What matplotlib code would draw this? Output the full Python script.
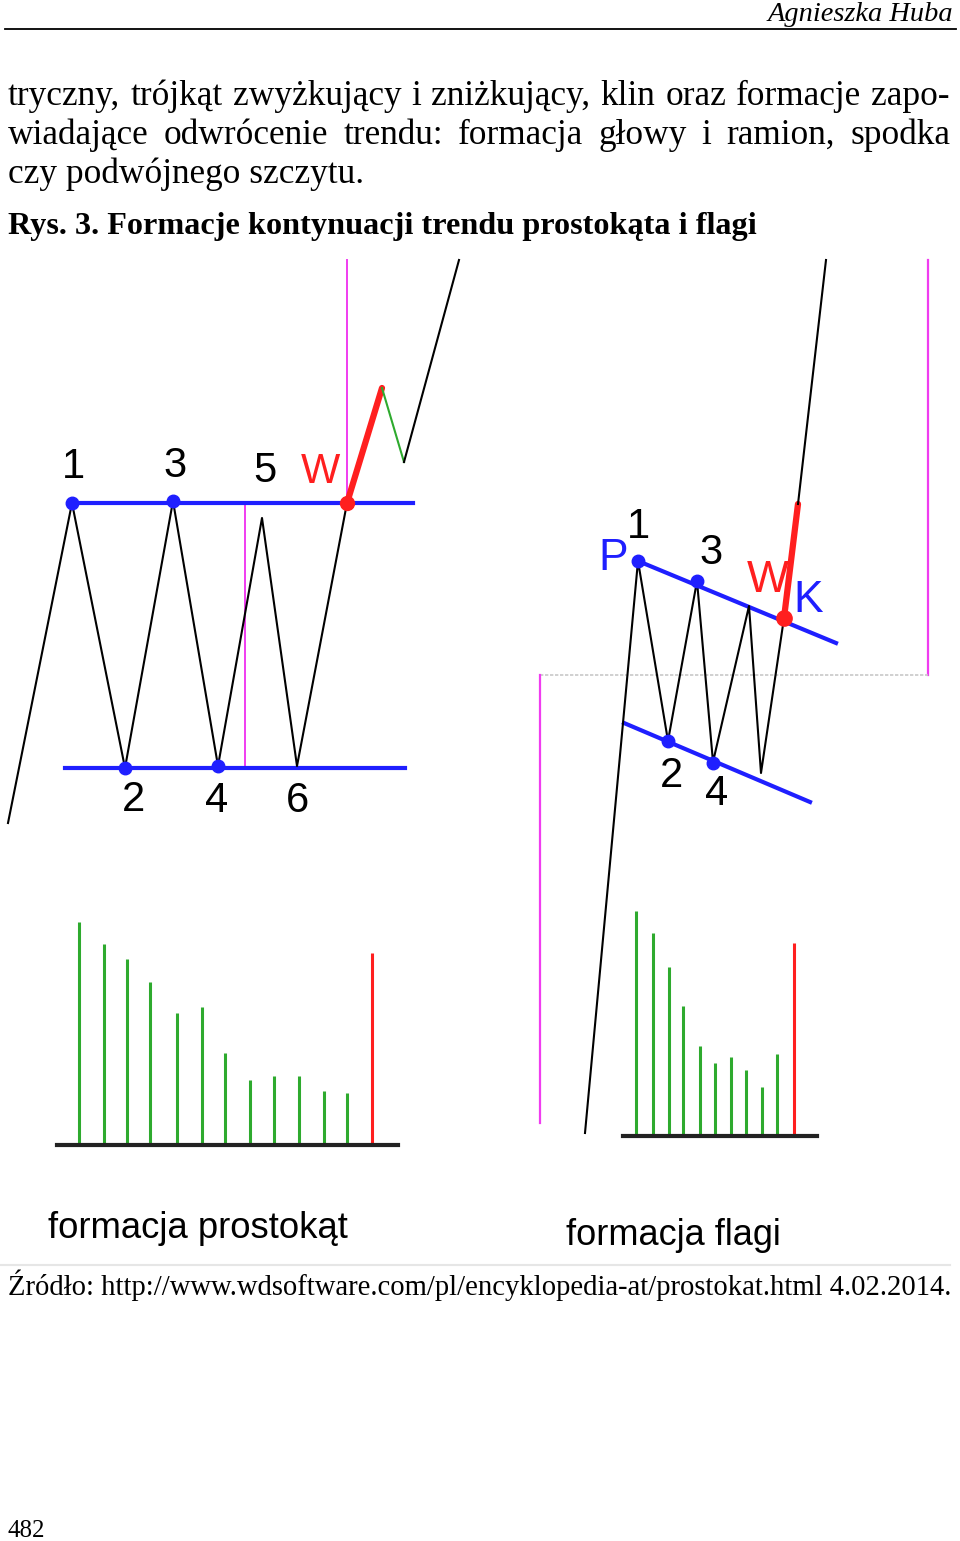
import matplotlib
matplotlib.use("Agg")
import matplotlib.pyplot as plt

# ── page text ──
HEADER = "Agnieszka Huba"
BODY_LINES = [
    "tryczny, trójkąt zwyżkujący i zniżkujący, klin oraz formacje zapo-",
    "wiadające odwrócenie trendu: formacja głowy i ramion, spodka",
    "czy podwójnego szczytu.",
]
CAPTION = "Rys. 3. Formacje kontynuacji trendu prostokąta i flagi"
SOURCE = "Źródło: http://www.wdsoftware.com/pl/encyklopedia-at/prostokat.html 4.02.2014."
PAGE_NO = "482"

# ── rectangle formation (page pixel coords, y down) ──
rect_price_x = [8, 72, 125, 173, 218, 262, 297, 347]
rect_price_y = [823, 503, 768, 501, 766, 518, 766, 503]
rect_break_x = [347, 382]
rect_break_y = [503, 388]
rect_pull_x = [382, 404]
rect_pull_y = [388, 462]
rect_after_x = [404, 459]
rect_after_y = [462, 260]
rect_top_line = ([72, 413], [503, 503])
rect_bot_line = ([65, 405], [768, 768])
rect_dots_x = [72, 173, 125, 218]
rect_dots_y = [503, 501, 768, 766]
rect_labels = ["1", "3", "5", "2", "4", "6"]
rect_label_x = [73, 175, 265, 134, 217, 298]
rect_label_y = [467, 466, 471, 800, 801, 801]

# volume below rectangle
rect_vol_x = [79, 104, 127, 150, 177, 202, 225, 250, 274, 299, 324, 347]
rect_vol = [223, 201, 186, 163, 132, 138, 92, 65, 69, 69, 54, 52]
rect_vol_break_x = 372
rect_vol_break = 192
rect_vol_base = 1145

# ── flag formation ──
flag_price_x = [585, 638, 668, 697, 713, 749, 761, 784]
flag_price_y = [1133, 561, 741, 581, 762, 606, 773, 618]
flag_break_x = [784, 798]
flag_break_y = [618, 504]
flag_after_x = [798, 826]
flag_after_y = [504, 260]
flag_top_line = ([638, 836], [561, 643])
flag_bot_line = ([624, 810], [723, 802])
flag_dots_x = [638, 697, 668, 713]
flag_dots_y = [561, 581, 741, 763]
flag_labels = ["1", "3", "2", "4"]
flag_label_x = [638, 711, 672, 717]
flag_label_y = [527, 553, 776, 794]

flag_vol_x = [636, 653, 669, 683, 700, 715, 731, 746, 762, 777]
flag_vol = [225, 203, 169, 130, 90, 73, 79, 66, 49, 82]
flag_vol_break_x = 794
flag_vol_break = 193
flag_vol_base = 1136

BLUE = "#1f1fff"
RED = "#ff1f1f"
GREEN = "#2eaa2e"
MAGENTA = "#f03cf0"
NARROW = ["Liberation Sans Narrow", "Liberation Sans", "DejaVu Sans"]
SERIF = ["Liberation Serif", "DejaVu Serif"]

fig = plt.figure(figsize=(9.6, 15.41), dpi=100)
ax = fig.add_axes([0, 0, 1, 1])
ax.set_xlim(0, 960)
ax.set_ylim(1541, 0)
ax.axis("off")
renderer = fig.canvas.get_renderer()


def text_width(t):
    bb = t.get_window_extent(renderer=renderer)
    return bb.width


def fit_text(x, y, s, width, size, **kw):
    t = ax.text(x, y, s, fontsize=size, va="baseline", **kw)
    w = text_width(t)
    t.set_fontsize(size * width / w)
    return t


def justify(s, x0, x1, y, size, **kw):
    words = s.split(" ")
    texts = [ax.text(0, y, w, fontsize=size, va="baseline", **kw) for w in words]
    widths = [text_width(t) for t in texts]
    gap = (x1 - x0 - sum(widths)) / (len(words) - 1)
    x = x0
    for t, w in zip(texts, widths):
        t.set_x(x)
        x += w + gap


# ── header ──
hdr = fit_text(953, 21, HEADER, 186, 19, style="italic", ha="right",
               family=SERIF)
ax.plot([5, 956], [29, 29], color="black", lw=1.3)

body = fit_text(8, 183, BODY_LINES[2], 355, 22, family=SERIF)
body_size = body.get_fontsize()
justify(BODY_LINES[0], 8, 950, 105, body_size, family=SERIF)
justify(BODY_LINES[1], 8, 950, 144, body_size, family=SERIF)
fit_text(8, 234, CAPTION, 749, 22, family=SERIF, weight="bold")

# ── rectangle chart ──
ax.plot([347, 347], [260, 503], color=MAGENTA, lw=1.4)
ax.plot([245, 245], [503, 768], color=MAGENTA, lw=1.4)
ax.plot(*rect_top_line, color=BLUE, lw=3)
ax.plot(*rect_bot_line, color=BLUE, lw=3)
ax.plot(rect_price_x, rect_price_y, color="black", lw=1.5)
ax.plot(rect_break_x, rect_break_y, color=RED, lw=4.5, solid_capstyle="round")
ax.plot(rect_pull_x, rect_pull_y, color=GREEN, lw=1.5)
ax.plot(rect_after_x, rect_after_y, color="black", lw=1.5)
ax.plot(rect_dots_x, rect_dots_y, "o", color=BLUE, ms=9)
ax.plot(rect_break_x[0], rect_break_y[0], "o", color=RED, ms=10)
for s, x, y in zip(rect_labels, rect_label_x, rect_label_y):
    ax.text(x, y, s, fontsize=30, ha="center", va="center", family=NARROW)
ax.text(320, 472, "W", fontsize=30, ha="center", va="center", color=RED,
        family=NARROW)

# ── flag chart ──
ax.plot([928, 928], [260, 675], color=MAGENTA, lw=1.6)
ax.plot([540, 928], [675, 675], color="#c8c8c8", lw=1.2, ls=(0, (2, 1)))
ax.plot([540, 540], [675, 1123], color=MAGENTA, lw=1.6)
ax.plot(*flag_top_line, color=BLUE, lw=3)
ax.plot(*flag_bot_line, color=BLUE, lw=3)
ax.plot(flag_price_x, flag_price_y, color="black", lw=1.5)
ax.plot(flag_break_x, flag_break_y, color=RED, lw=4.5, solid_capstyle="round")
ax.plot(flag_after_x, flag_after_y, color="black", lw=1.5)
ax.plot(flag_dots_x, flag_dots_y, "o", color=BLUE, ms=9)
ax.plot(flag_break_x[0], flag_break_y[0], "o", color=RED, ms=11)
for s, x, y in zip(flag_labels, flag_label_x, flag_label_y):
    ax.text(x, y, s, fontsize=30, ha="center", va="center", family=NARROW)
ax.text(613, 558, "P", fontsize=32, ha="center", va="center", color=BLUE,
        family=NARROW)
ax.text(768, 580, "W", fontsize=32, ha="center", va="center", color=RED,
        family=NARROW)
ax.text(808, 600, "K", fontsize=32, ha="center", va="center", color=BLUE,
        family=NARROW)

# ── volume ──
ax.vlines(rect_vol_x, rect_vol_base, [rect_vol_base - v for v in rect_vol],
          color=GREEN, lw=2.2)
ax.vlines(rect_vol_break_x, rect_vol_base, rect_vol_base - rect_vol_break,
          color=RED, lw=2.2)
ax.plot([57, 398], [rect_vol_base, rect_vol_base], color="#222222", lw=3)
ax.vlines(flag_vol_x, flag_vol_base, [flag_vol_base - v for v in flag_vol],
          color=GREEN, lw=2.2)
ax.vlines(flag_vol_break_x, flag_vol_base, flag_vol_base - flag_vol_break,
          color=RED, lw=2.2)
ax.plot([623, 817], [flag_vol_base, flag_vol_base], color="#222222", lw=3)

fit_text(48, 1238, "formacja prostokąt", 300, 34, family=NARROW)
fit_text(566, 1245, "formacja flagi", 215, 34, family=NARROW)

# ── footer ──
ax.plot([0, 950], [1265, 1265], color="#e6e6e6", lw=1.5)
fit_text(8, 1295, SOURCE, 942, 20, family=SERIF)
ax.text(8, 1537, PAGE_NO, fontsize=18, va="baseline", family=SERIF)

fig.savefig("out.png", dpi=100)
